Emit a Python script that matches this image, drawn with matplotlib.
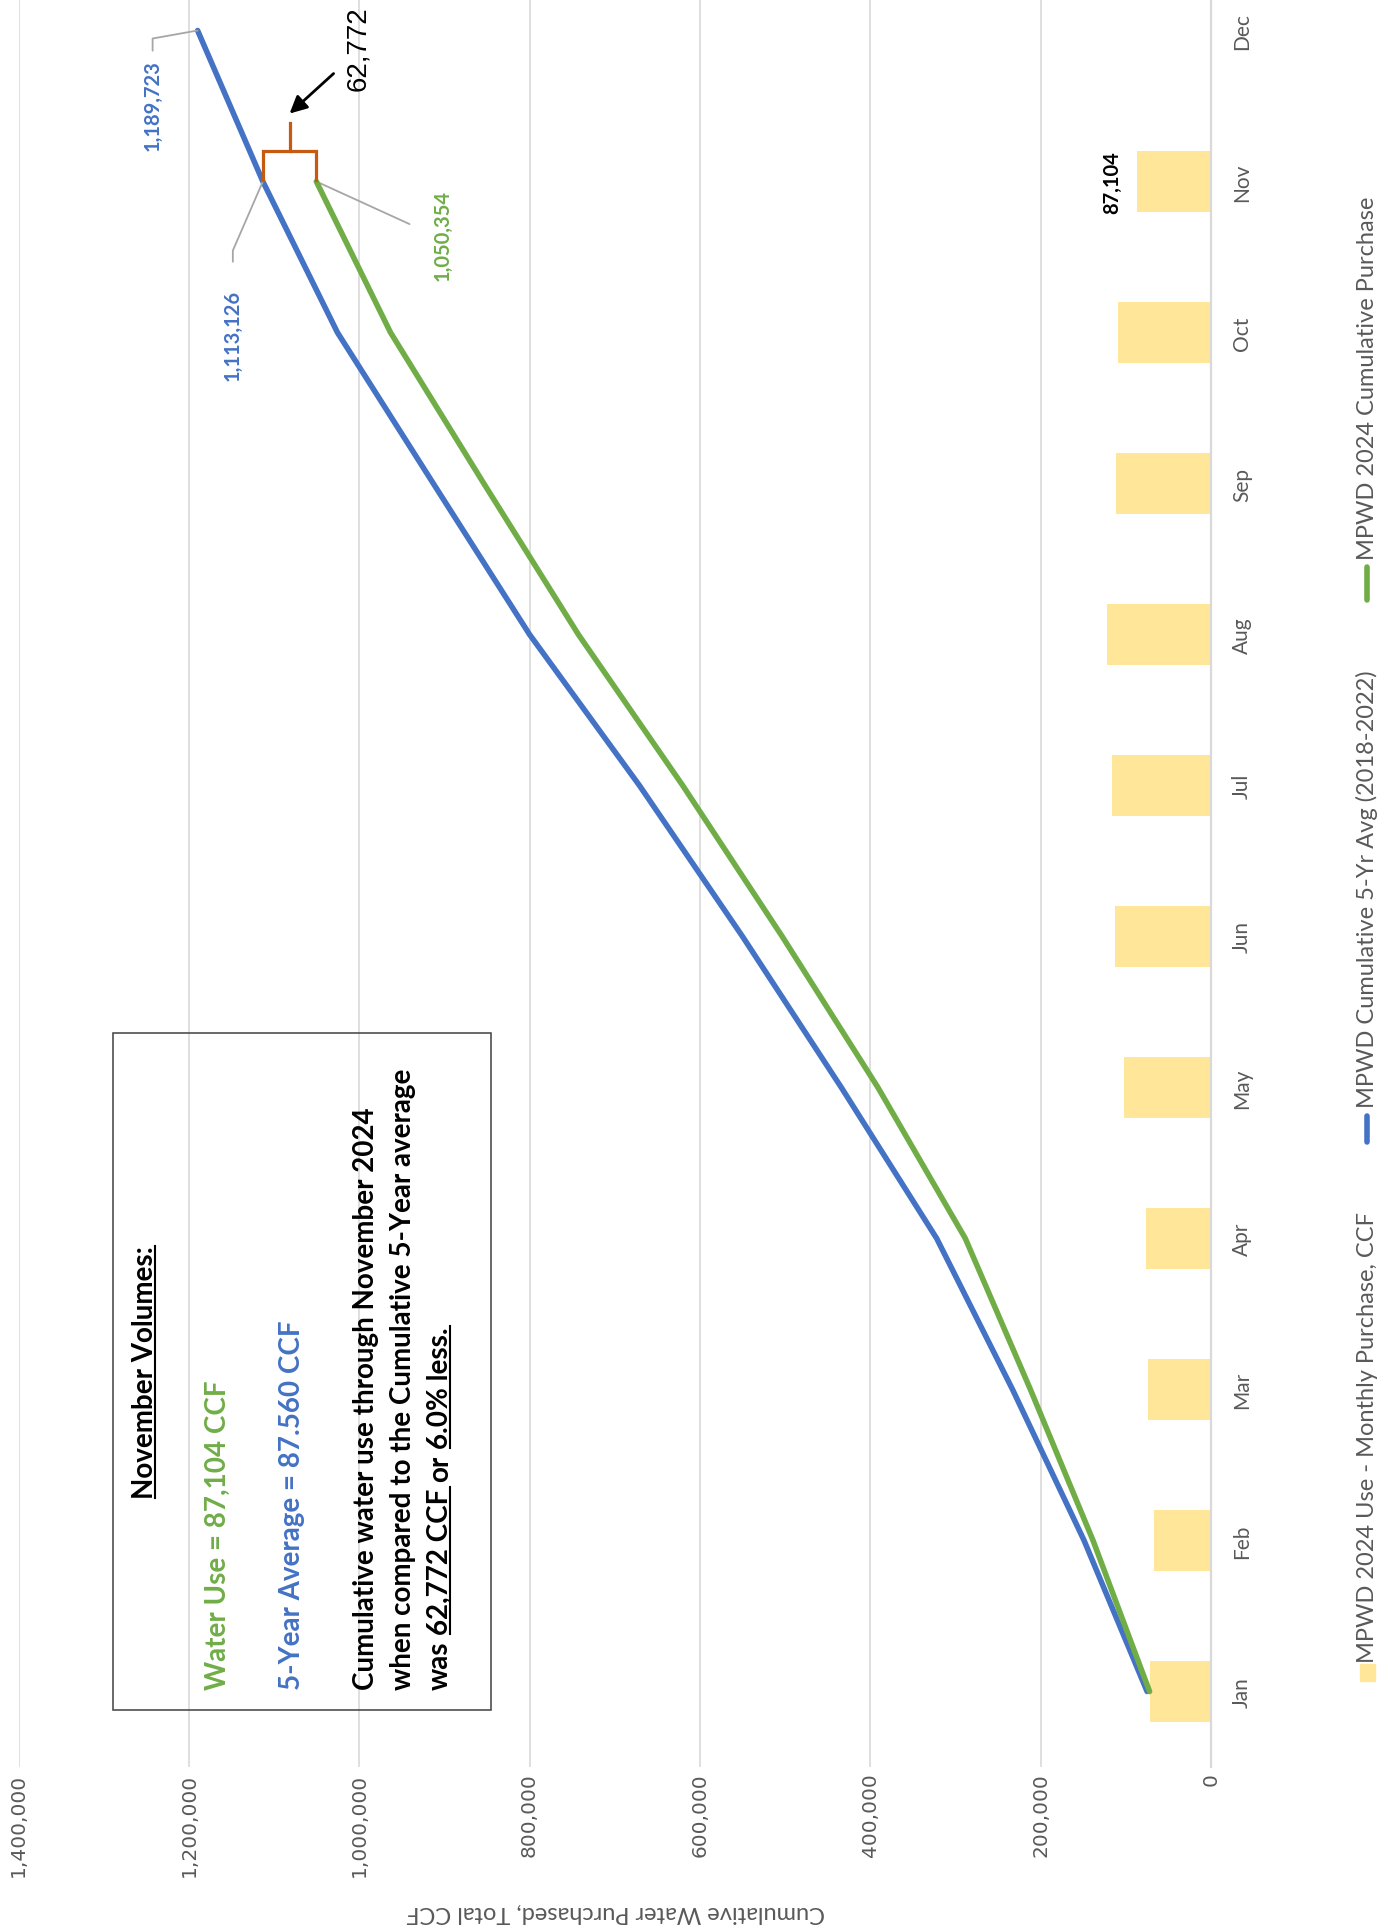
import numpy as np
import matplotlib
matplotlib.use("Agg")
import matplotlib.pyplot as plt
from matplotlib.lines import Line2D
from matplotlib.patches import Rectangle

# data
months = ["Jan", "Feb", "Mar", "Apr", "May", "Jun", "Jul", "Aug", "Sep", "Oct", "Nov", "Dec"]
monthly_2024 = [72100, 66400, 73500, 76400, 102600, 112400, 116800, 122500, 111000, 109550, 87104]
cum_2024 = [72100, 138500, 212000, 288400, 391000, 503400, 620200, 742700, 853700, 963250, 1050354]
cum_5yr = [75000, 149000, 233000, 322000, 434000, 550000, 671000, 800000, 913000, 1025566, 1113126, 1189723]
value_ticks = [0, 200000, 400000, 600000, 800000, 1000000, 1200000, 1400000]

legend_labels = ["MPWD 2024 Use - Monthly Purchase, CCF",
                 "MPWD Cumulative 5-Yr Avg (2018-2022)",
                 "MPWD 2024 Cumulative Purchase"]
axis_title = "Cumulative Water Purchased, Total CCF"

box_title = "November Volumes:"
box_use = "Water Use = 87,104 CCF"
box_avg = "5-Year Average = 87.560 CCF"
box_lines = ["Cumulative water use through November 2024",
             "when compared to the Cumulative 5-Year average"]
box_last = [("was", False), ("62,772 CCF", True), ("or", False), ("6.0% less.", True)]

BAR = "#FFE699"
BLUE = "#4472C4"
GREEN = "#70AD47"
ORANGE = "#C55A11"
GRAY = "#595959"
GRID = "#D9D9D9"
LEADER = "#A6A6A6"

plt.rcParams["font.family"] = ["Lato", "DejaVu Sans"]

W, H = 1388, 1931
fig = plt.figure(figsize=(W / 100, H / 100), dpi=100)


def fx(x):
    return x / W


def fy(y):
    return 1 - y / H


def pt(px):
    return px * 72 / 100


# the chart is drawn turned on its side: values run right to left, months bottom to top
ax = fig.add_axes([fx(18.5), fy(1768), (1211 - 18.5) / W, (1768 + 44) / H])
pos = np.arange(len(months))
ax.barh(pos[:len(monthly_2024)], monthly_2024, height=0.4, color=BAR, zorder=2)
ax.plot(cum_5yr, pos[:len(cum_5yr)], color=BLUE, lw=4, solid_capstyle="round", zorder=3)
ax.plot(cum_2024, pos[:len(cum_2024)], color=GREEN, lw=4, solid_capstyle="round", zorder=4)
ax.set_xlim(1400000, 0)
ax.set_ylim(-0.5, 11.5)

ax.set_xticks(value_ticks)
ax.set_xticklabels([f"{v:,}" for v in value_ticks], rotation=90, family="DejaVu Sans",
                   fontsize=14.5, color=GRAY)
ax.tick_params(axis="x", length=0, pad=4)
ax.yaxis.tick_right()
ax.set_yticks(pos)
ax.set_yticklabels(months, rotation=90, fontsize=15, color=GRAY, va="center")
ax.tick_params(axis="y", length=0, pad=15)
ax.xaxis.grid(True, color=GRID, lw=1.2)
ax.set_axisbelow(True)
for side in ["top", "left", "bottom"]:
    ax.spines[side].set_visible(False)
ax.spines["right"].set_color(GRID)
ax.spines["right"].set_linewidth(1.6)

fig.text(fx(616), fy(1913), axis_title, rotation=180, ha="center", va="center",
         fontsize=17, color=GRAY)

# data labels with leader lines
lab = dict(rotation=90, fontsize=14.5, fontweight="bold", textcoords="offset points")
ax.annotate(f"{cum_5yr[11]:,}", xy=(cum_5yr[11], 11), xytext=(pt(-45), pt(-29)),
            ha="center", va="top", color=BLUE, **lab,
            arrowprops=dict(arrowstyle="-", color=LEADER, lw=1.3, relpos=(0.5, 1),
                            shrinkA=pt(6), shrinkB=0,
                            connectionstyle="arc,angleA=90,armA=21,rad=0"))
ax.annotate(f"{cum_5yr[10]:,}", xy=(cum_5yr[10], 10), xytext=(pt(-30), pt(-107)),
            ha="center", va="top", color=BLUE, **lab,
            arrowprops=dict(arrowstyle="-", color=LEADER, lw=1.3, relpos=(0.5, 1),
                            shrinkA=pt(24), shrinkB=0,
                            connectionstyle="arc,angleA=90,armA=38,rad=0"))
ax.annotate(f"{cum_2024[10]:,}", xy=(cum_2024[10], 10), xytext=(pt(126), pt(-53)),
            ha="center", va="center", color=GREEN, **lab,
            arrowprops=dict(arrowstyle="-", color=LEADER, lw=1.3, relpos=(0, 0.5),
                            shrinkA=pt(22), shrinkB=0))
ax.annotate(f"{monthly_2024[10]:,}", xy=(monthly_2024[10], 10), xytext=(pt(-15), 0),
            ha="right", va="center", color="black", **lab)

# bracket and arrow showing the gap in November
gap = cum_5yr[10] - cum_2024[10]
mid = (cum_5yr[10] + cum_2024[10]) / 2
ax.plot([cum_5yr[10], cum_5yr[10], cum_2024[10], cum_2024[10]], [10.01, 10.2, 10.2, 10.01],
        color=ORANGE, lw=2.3, zorder=5, solid_joinstyle="miter")
ax.plot([mid, mid], [10.2, 10.39], color=ORANGE, lw=2.3, zorder=5)
ax.annotate("", xy=(mid, 10.45), xytext=(pt(44), pt(40)), textcoords="offset points",
            arrowprops=dict(arrowstyle="-|>", color="black", lw=2, mutation_scale=26,
                            shrinkA=0, shrinkB=0))
ax.annotate(f"{gap:,}", xy=(mid, 10.45), xytext=(pt(69), pt(24)), textcoords="offset points",
            rotation=90, ha="center", va="bottom", family="Liberation Sans", fontsize=20,
            color="black")


def vtext(x, y, s, va="bottom", **kw):
    return fig.text(fx(x), fy(y), s, rotation=90, ha="center", va=va, **kw)


r = fig.canvas.get_renderer()


def underline(t):
    bb = t.get_window_extent(r)
    x = bb.x1 - 0.12 * t.get_fontsize() * 100 / 72
    fig.add_artist(Line2D([x / W, x / W], [bb.y0 / H, bb.y1 / H], color=t.get_color(), lw=1.5))


# text box
BOX_FS = 20
fig.add_artist(Rectangle((fx(113), fy(1711)), (491 - 113) / W, (1711 - 1034) / H,
                         transform=fig.transFigure, fill=False, ec="#404040", lw=1.1))
t = vtext(145, 1373, box_title, va="center", fontsize=BOX_FS, fontweight="bold", color="black")
underline(t)
vtext(218, 1690, box_use, fontsize=BOX_FS, fontweight="bold", color=GREEN)
vtext(292, 1690, box_avg, fontsize=BOX_FS, fontweight="bold", color=BLUE)
for x, s in zip([366, 403], box_lines):
    vtext(x, 1690, s, fontsize=BOX_FS, fontweight="bold", color="black")

m1 = fig.text(0, 0, "a a", fontsize=BOX_FS, fontweight="bold")
m2 = fig.text(0, 0, "aa", fontsize=BOX_FS, fontweight="bold")
space = m1.get_window_extent(r).width - m2.get_window_extent(r).width
m1.remove()
m2.remove()
y = 1690
for s, ul in box_last:
    t = vtext(440, y, s, fontsize=BOX_FS, fontweight="bold", color="black")
    bb = t.get_window_extent(r)
    if ul:
        underline(t)
    y -= bb.height + space

# legend, turned like the chart
leg_x = 1367
fig.add_artist(Rectangle((fx(1360), fy(1682)), 15 / W, 17 / H, transform=fig.transFigure,
                         color=BAR))
vtext(leg_x, 1663, legend_labels[0], fontsize=17, color=GRAY)
fig.add_artist(Line2D([fx(leg_x)] * 2, [fy(1143), fy(1117)], color=BLUE, lw=4,
                      solid_capstyle="round"))
vtext(leg_x, 1108, legend_labels[1], fontsize=17, color=GRAY)
fig.add_artist(Line2D([fx(leg_x)] * 2, [fy(601), fy(568)], color=GREEN, lw=4,
                      solid_capstyle="round"))
vtext(leg_x, 560, legend_labels[2], fontsize=17, color=GRAY)

fig.savefig("out.png", dpi=100)
